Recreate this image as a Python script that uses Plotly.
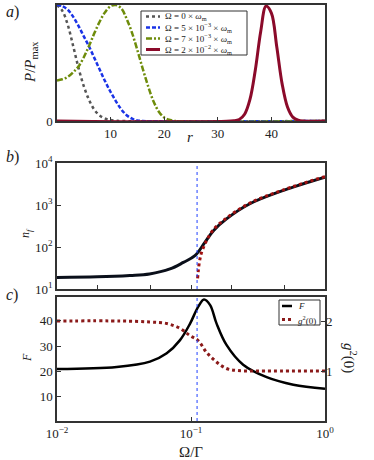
import plotly.graph_objects as go

# ---- panel a: P/Pmax vs r ----
r_black = [0, 1, 2, 3, 4, 5, 6, 7, 8, 9, 10, 11, 12, 50]
p_black = [1.0, 0.95, 0.83, 0.65, 0.46, 0.30, 0.18, 0.095, 0.046, 0.02, 0.008, 0.003, 0.0, 0.0]

r_blue = [0, 1, 2, 3, 4, 5, 6, 7, 8, 9, 10, 11, 12, 13, 14, 15, 16, 50]
p_blue = [1.0, 0.99, 0.96, 0.90, 0.82, 0.73, 0.64, 0.54, 0.44, 0.34, 0.25, 0.17, 0.10,
          0.05, 0.02, 0.005, 0.0, 0.0]

r_green = [0, 1, 2, 3, 4, 5, 6, 7, 8, 9, 10, 11, 12, 13, 14, 15, 16, 17, 18, 19, 20, 21, 22, 50]
p_green = [0.35, 0.36, 0.38, 0.42, 0.47, 0.55, 0.65, 0.76, 0.86, 0.94, 0.99, 1.0, 0.97,
           0.88, 0.76, 0.61, 0.45, 0.30, 0.17, 0.08, 0.03, 0.01, 0.0, 0.0]

r_red = [0, 33, 34, 35, 36, 37, 38, 39, 40, 41, 42, 43, 44, 45, 46, 50]
p_red = [0.0, 0.002, 0.013, 0.058, 0.186, 0.44, 0.77, 0.99, 0.93, 0.64, 0.32, 0.12,
         0.033, 0.007, 0.0, 0.0]

legend_a = ["Ω = 0 × <i>ω</i><sub>m</sub>",
            "Ω = 5 × 10<sup>−3</sup> × <i>ω</i><sub>m</sub>",
            "Ω = 7 × 10<sup>−3</sup> × <i>ω</i><sub>m</sub>",
            "Ω = 2 × 10<sup>−2</sup> × <i>ω</i><sub>m</sub>"]
legend_c = ["<i>F</i>", "<i>g</i><sup>2</sup>(0)"]

# ---- panel b: n_f vs Omega/Gamma ----
w_nf = [0.01, 0.02, 0.035, 0.049, 0.0697, 0.0877, 0.107, 0.127, 0.147, 0.184, 0.275, 0.49, 1.0]
nf = [18.9, 19.5, 21.0, 22.8, 30, 43, 62, 129, 245, 467, 1070, 2230, 4600]

w_nf_app = [0.112, 0.1135, 0.115, 0.1175, 0.12, 0.125, 0.131, 0.147, 0.184, 0.275, 0.49, 1.0]
nf_app = [18, 28, 40, 58, 75, 105, 145, 260, 490, 1110, 2300, 4750]

omega_c = 0.111

# ---- panel c: F and g2(0) ----
w_F = [0.01, 0.0279, 0.0494, 0.0659, 0.0828, 0.0984, 0.113, 0.125, 0.139, 0.155, 0.184,
       0.245, 0.367, 0.58, 1.0]
F = [21.0, 21.8, 23.9, 27.2, 32.4, 38.9, 45.5, 48.4, 46.2, 39.0, 30.5, 22.7, 17.8, 14.8, 13.2]

w_g2 = [0.01, 0.03, 0.049, 0.066, 0.083, 0.098, 0.113, 0.13, 0.155, 0.184, 0.22, 0.3, 1.0]
g2 = [2.0, 2.0, 1.98, 1.95, 1.85, 1.71, 1.61, 1.38, 1.18, 1.05, 1.01, 1.0, 1.0]

ticks_nf = [10, 100, 1000, 10000]
ticktext_nf = ["10<sup>1</sup>", "10<sup>2</sup>", "10<sup>3</sup>", "10<sup>4</sup>"]
ticks_w = [0.01, 0.1, 1]
ticktext_w = ["10<sup>−2</sup>", "10<sup>−1</sup>", "10<sup>0</sup>"]

FONT = "Liberation Serif"
FRAME = "#333333"
W, H = 374, 460
ML, MR, MT, MB = 57, 49, 5, 39

# line styles shared by curves and hand-drawn legend samples
st_black = dict(color='#555555', width=2.5, dash='dot')
st_blue = dict(color='#1a33e6', width=2.5, dash='4px,2px')
st_green = dict(color='#6e8c0a', width=2.5, dash='6px,2px,2px,2px')
st_red = dict(color='#8b0a2a', width=3)
st_F = dict(color='black', width=2.5)
st_g2 = dict(color='#8b1a1a', width=3, dash='3px,3px')


def px(xp):
    return (xp - ML) / (W - ML - MR)


def py(yp):
    return (H - MB - yp) / (H - MT - MB)


fig = go.Figure()

# panel a
for xs, ys, st in [(r_black, p_black, st_black), (r_blue, p_blue, st_blue),
                   (r_green, p_green, st_green), (r_red, p_red, st_red)]:
    fig.add_trace(go.Scatter(x=xs, y=ys, mode='lines', showlegend=False,
                             line=dict(shape='spline', **st), xaxis='x', yaxis='y'))

# panel b
fig.add_trace(go.Scatter(x=w_nf, y=nf, mode='lines', showlegend=False,
                         line=dict(color='#0a0f1a', width=3, shape='spline'),
                         xaxis='x2', yaxis='y2'))
fig.add_trace(go.Scatter(x=w_nf_app, y=nf_app, mode='lines', showlegend=False,
                         line=dict(color='#a01010', width=3, dash='3px,3px', shape='spline'),
                         xaxis='x2', yaxis='y2'))

# panel c
fig.add_trace(go.Scatter(x=w_F, y=F, mode='lines', showlegend=False,
                         line=dict(shape='spline', **st_F), xaxis='x3', yaxis='y3'))
fig.add_trace(go.Scatter(x=w_g2, y=g2, mode='lines', showlegend=False,
                         line=dict(shape='spline', **st_g2), xaxis='x3', yaxis='y4'))

# vertical dotted marker in b and c
for xr, yr in [('x2', 'y2 domain'), ('x3', 'y3 domain')]:
    fig.add_shape(type='line', xref=xr, yref=yr, x0=omega_c, x1=omega_c, y0=0, y1=1,
                  line=dict(color='#2040ff', width=1, dash='dot'))

# compact legends (matplotlib-like)
annotations = []


def add_legend(box, entries, styles, sample, text_x, ys, size):
    fig.add_shape(type='rect', xref='paper', yref='paper', x0=px(box[0]), x1=px(box[1]),
                  y0=py(box[3]), y1=py(box[2]), fillcolor='white',
                  line=dict(color=FRAME, width=1))
    for lab, st, yy in zip(entries, styles, ys):
        fig.add_shape(type='line', xref='paper', yref='paper', x0=px(sample[0]),
                      x1=px(sample[1]), y0=py(yy), y1=py(yy), line=st)
        annotations.append(dict(text=lab, x=px(text_x), y=py(yy), xref='paper',
                                yref='paper', xanchor='left', yanchor='middle',
                                showarrow=False, font=dict(size=size)))


add_legend((141, 247, 11, 55), legend_a, [st_black, st_blue, st_green, st_red],
           (146, 160), 163, [16.5, 27.5, 38.5, 49.5], 9)
add_legend((279, 320, 300, 325), legend_c, [st_F, st_g2], (282, 292), 296, [306, 319.5], 9)


def label(text, xp, yp, size=13, angle=0):
    annotations.append(dict(text=text, x=px(xp), y=py(yp), xref='paper', yref='paper',
                            xanchor='center', yanchor='middle', showarrow=False,
                            textangle=angle, font=dict(size=size)))


for lab, yy in [('a', 12), ('b', 157), ('c', 295)]:
    label('<i>%s</i>)' % lab, 12, yy, size=16)

# axis titles
label('<i>P</i>/<i>P</i><sub>max</sub>', 31, 62, size=15, angle=-90)
label('<i>r</i>', 190, 137, size=15)
label('<i>n<sub>f</sub></i>', 26, 233, size=12, angle=-90)
label('<i>F</i>', 27, 358, size=12, angle=-90)
label('Ω/Γ', 191, 452, size=15)
label('<i>g</i><sup>2</sup>(0)', 350, 358, size=15, angle=90)

axis_style = dict(showline=True, mirror=True, linecolor=FRAME, linewidth=1.5,
                  ticks='inside', ticklen=4, tickcolor=FRAME, showgrid=False,
                  zeroline=False, tickfont=dict(size=13), automargin=False)

fig.update_layout(
    width=W, height=H,
    margin=dict(l=ML, r=MR, t=MT, b=MB),
    showlegend=False,
    paper_bgcolor='white', plot_bgcolor='white',
    font=dict(family=FONT, size=13, color='#222222'),
    xaxis=dict(domain=[0, 1], anchor='y', range=[0, 50], tickvals=[10, 20, 30, 40],
               **axis_style),
    yaxis=dict(domain=[py(121), 1], anchor='x', range=[0, 1], tickvals=[0, 1], **axis_style),
    xaxis2=dict(type='log', domain=[0, 1], anchor='y2', range=[-2, 0], matches='x3',
                showticklabels=False, **axis_style),
    yaxis2=dict(type='log', domain=[py(289), py(163)], anchor='x2', range=[1, 4],
                tickvals=ticks_nf, ticktext=ticktext_nf, **axis_style),
    xaxis3=dict(type='log', domain=[0, 1], anchor='y3', range=[-2, 0],
                tickvals=ticks_w, ticktext=ticktext_w, **axis_style),
    yaxis3=dict(domain=[0, py(297)], anchor='x3', range=[0.5, 49.4], tickvals=[10, 20, 30, 40],
                **axis_style),
    yaxis4=dict(overlaying='y3', side='right', anchor='x3', range=[0, 2.48], tickvals=[1, 2],
                showline=False, ticks='inside', ticklen=4, tickcolor=FRAME,
                showgrid=False, zeroline=False, tickfont=dict(size=13), automargin=False),
    annotations=annotations,
)

# drop the default 8px page margin so the figure sits at the window origin
fig.write_html("out.html", config={'displayModeBar': False},
               post_script="document.body.style.margin='0px';")
